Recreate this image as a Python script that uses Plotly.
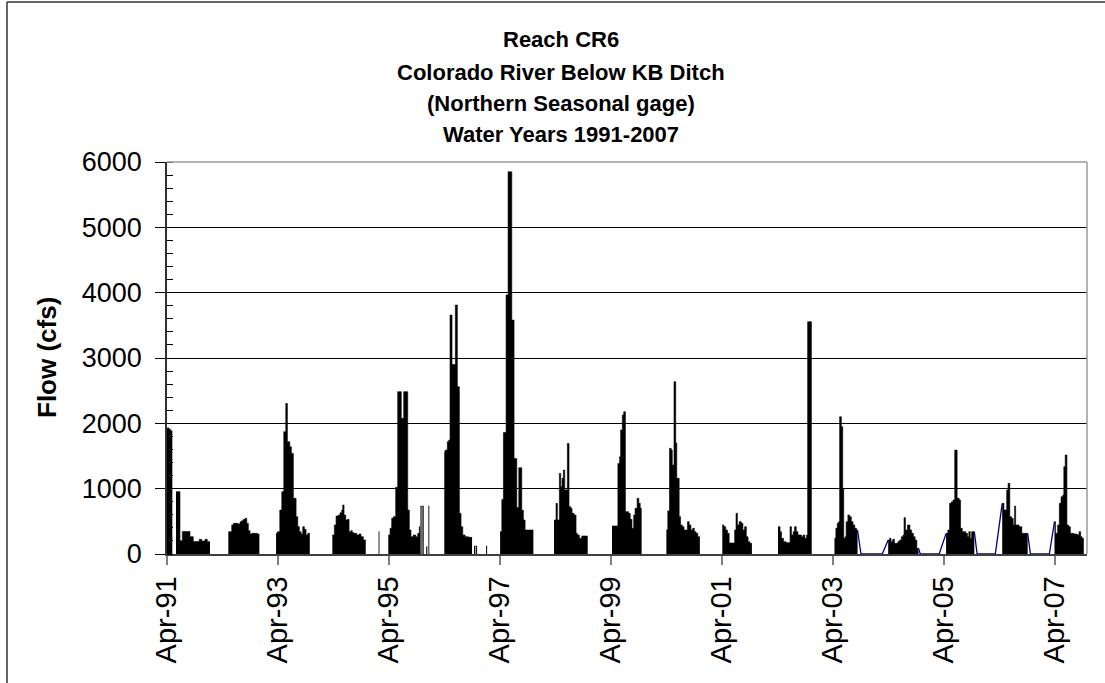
import pandas as pd
import plotly.graph_objects as go

# ---------------- data (decimal years, flow in cfs) ----------------
# Each season: times where the daily flow steps to a new level, and that level.
WY1991A_T = [1991.247, 1991.283, 1991.310, 1991.343]
WY1991A_Q = [1930, 1910, 1885, 1885]

WY1991B_T = [1991.409, 1991.481, 1991.523, 1991.662, 1991.721, 1991.829, 1991.872, 1991.932, 1991.973, 1992.022]
WY1991B_Q = [954, 204, 345, 265, 190, 224, 199, 224, 189, 189]

WY1992_T = [1992.352, 1992.413, 1992.442, 1992.527, 1992.563, 1992.593, 1992.622, 1992.653, 1992.683, 1992.712,
            1992.743, 1992.773, 1992.869, 1992.910]
WY1992_Q = [342, 444, 469, 459, 495, 510, 530, 546, 469, 357, 306, 316, 306, 306]

WY1993_T = [1993.211, 1993.235, 1993.278, 1993.314, 1993.350, 1993.386, 1993.415, 1993.458, 1993.487, 1993.523,
            1993.572, 1993.602, 1993.631, 1993.662, 1993.692, 1993.721, 1993.752, 1993.783, 1993.819]
WY1993_Q = [316, 342, 673, 954, 1872, 2305, 1719, 1642, 1540, 852, 571, 418, 342, 306, 418, 377, 291, 316, 316]

WY1994_T = [1994.226, 1994.262, 1994.293, 1994.334, 1994.365, 1994.395, 1994.413, 1994.437, 1994.467, 1994.496,
            1994.527, 1994.558, 1994.586, 1994.617, 1994.666, 1994.707, 1994.743, 1994.785, 1994.828]
WY1994_Q = [291, 444, 581, 597, 632, 673, 750, 597, 520, 530, 342, 357, 326, 316, 291, 306, 265, 214, 214]

WY1995_T = [1995.235, 1995.266, 1995.296, 1995.325, 1995.368, 1995.404, 1995.469, 1995.513, 1995.585, 1995.614,
            1995.644, 1995.686, 1995.729, 1995.765, 1995.794, 1995.812]
WY1995_Q = [291, 393, 546, 571, 1020, 2484, 2076, 2484, 673, 367, 265, 291, 265, 316, 418, 418]

WY1996_T = [1996.244, 1996.262, 1996.298, 1996.324, 1996.347, 1996.383, 1996.443, 1996.479, 1996.515, 1996.545,
            1996.576, 1996.617, 1996.677, 1996.743]
WY1996_Q = [1566, 1591, 1719, 1744, 3657, 2900, 3810, 2560, 622, 418, 291, 265, 255, 255]

WY1997_T = [1997.248, 1997.279, 1997.308, 1997.356, 1997.392, 1997.459, 1997.500, 1997.549, 1997.585, 1997.639,
            1997.668, 1997.699, 1997.848]
WY1997_Q = [342, 836, 1860, 3963, 5850, 3580, 1460, 710, 1320, 670, 520, 367, 367]

WY1998_T = [1998.221, 1998.257, 1998.281, 1998.317, 1998.342, 1998.365, 1998.389, 1998.414, 1998.461, 1998.491,
            1998.522, 1998.546, 1998.582, 1998.618, 1998.641, 1998.677, 1998.720, 1998.828]
WY1998_Q = [520, 775, 520, 1234, 1030, 1158, 1285, 979, 1693, 724, 699, 622, 597, 316, 291, 240, 275, 275]

WY1999_T = [1999.266, 1999.372, 1999.403, 1999.421, 1999.452, 1999.477, 1999.508, 1999.564, 1999.595, 1999.626,
            1999.657, 1999.682, 1999.719, 1999.750, 1999.775, 1999.800]
WY1999_Q = [428, 1387, 1489, 1897, 2127, 2178, 648, 622, 530, 393, 597, 699, 852, 775, 699, 699]

WY2000_T = [2000.246, 2000.271, 2000.302, 2000.333, 2000.352, 2000.383, 2000.414, 2000.433, 2000.476, 2000.501,
            2000.532, 2000.563, 2000.625, 2000.656, 2000.687, 2000.718, 2000.749, 2000.780, 2000.811, 2000.848]
WY2000_Q = [367, 660, 1617, 1591, 1362, 2637, 1700, 1158, 571, 444, 418, 367, 495, 444, 367, 393, 342, 316, 265, 265]

WY2001_T = [2001.252, 2001.283, 2001.314, 2001.345, 2001.376, 2001.475, 2001.500, 2001.525, 2001.556, 2001.593,
            2001.624, 2001.655, 2001.686, 2001.717, 2001.748, 2001.786]
WY2001_Q = [444, 418, 367, 316, 168, 367, 622, 444, 495, 469, 367, 418, 265, 189, 163, 163]

WY2002_T = [2002.257, 2002.294, 2002.319, 2002.356, 2002.400, 2002.474, 2002.499, 2002.530, 2002.555, 2002.586,
            2002.617, 2002.679, 2002.710, 2002.741, 2002.772, 2002.791, 2002.865]
WY2002_Q = [418, 342, 240, 189, 173, 418, 291, 342, 418, 342, 291, 265, 291, 240, 291, 3555, 3555]

WY2003_T = [2003.275, 2003.300, 2003.325, 2003.349, 2003.368, 2003.399, 2003.424, 2003.442, 2003.467, 2003.486,
            2003.517, 2003.548, 2003.579, 2003.610, 2003.641, 2003.672, 2003.691]
WY2003_Q = [240, 393, 469, 495, 2101, 1948, 1000, 240, 265, 495, 597, 571, 495, 444, 393, 367, 367]

WY2004_T = [2004.243, 2004.268, 2004.293, 2004.324, 2004.355, 2004.417, 2004.448, 2004.479, 2004.510, 2004.528,
            2004.553, 2004.590, 2004.634, 2004.665, 2004.696, 2004.727, 2004.758, 2004.789]
WY2004_Q = [214, 240, 189, 224, 163, 189, 214, 265, 291, 556, 367, 444, 367, 316, 265, 214, 87, 87]

WY2005_T = [2005.285, 2005.316, 2005.348, 2005.379, 2005.410, 2005.441, 2005.484, 2005.521, 2005.546, 2005.577,
            2005.639, 2005.670, 2005.695, 2005.720, 2005.745, 2005.794]
WY2005_Q = [316, 367, 775, 800, 826, 1591, 852, 826, 393, 342, 316, 265, 342, 240, 342, 342]

WY2006_T = [2006.297, 2006.328, 2006.378, 2006.403, 2006.434, 2006.465, 2006.496, 2006.520, 2006.539, 2006.601,
            2006.651, 2006.756]
WY2006_Q = [775, 673, 979, 1081, 571, 546, 444, 734, 444, 418, 316, 316]

WY2007_T = [2007.240, 2007.259, 2007.296, 2007.327, 2007.358, 2007.389, 2007.408, 2007.433, 2007.464, 2007.495,
            2007.526, 2007.588, 2007.650, 2007.681, 2007.712, 2007.737, 2007.768]
WY2007_Q = [495, 316, 444, 775, 877, 903, 1336, 1515, 444, 418, 316, 306, 291, 342, 265, 240, 240]

# isolated single readings (start, end, flow)
SPIKE_START = [1995.060, 1995.815, 1995.850, 1995.918, 1995.958, 1996.779, 1996.816, 1996.996]
SPIKE_END = [1995.075, 1995.835, 1995.873, 1995.938, 1995.974, 1996.803, 1996.834, 1997.014]
SPIKE_Q = [342, 734, 734, 112, 734, 122, 122, 122]

# zero-flow periods between seasons (2003-2007), drawn by the line series
CONN_0304_T = [2003.691, 2003.753, 2004.137, 2004.243]
CONN_0304_Q = [367, 0, 0, 214]
CONN_0405_T = [2004.789, 2004.820, 2005.161, 2005.285]
CONN_0405_Q = [87, 0, 0, 316]
CONN_0506_T = [2005.794, 2005.844, 2006.173, 2006.297]
CONN_0506_Q = [342, 0, 0, 775]
CONN_0607_T = [2006.756, 2006.806, 2007.147, 2007.240]
CONN_0607_Q = [316, 0, 0, 495]

X_RANGE = [1991.247, 2007.826]
Y_RANGE = [0, 6000]
TITLE_LINES = ["Reach CR6", "Colorado River Below KB Ditch", "(Northern Seasonal gage)", "Water Years 1991-2007"]
Y_TITLE = "Flow (cfs)"

FONT = "Liberation Sans, Arial, Helvetica, sans-serif"


def to_dt(y):
    yi = int(y)
    a = pd.Timestamp(year=yi, month=1, day=1)
    b = pd.Timestamp(year=yi + 1, month=1, day=1)
    return a + (b - a) * (y - yi)


def to_dts(lst):
    return [to_dt(v) for v in lst]


seasons = [
    (WY1991A_T, WY1991A_Q), (WY1991B_T, WY1991B_Q), (WY1992_T, WY1992_Q), (WY1993_T, WY1993_Q),
    (WY1994_T, WY1994_Q), (WY1995_T, WY1995_Q), (WY1996_T, WY1996_Q), (WY1997_T, WY1997_Q),
    (WY1998_T, WY1998_Q), (WY1999_T, WY1999_Q), (WY2000_T, WY2000_Q), (WY2001_T, WY2001_Q),
    (WY2002_T, WY2002_Q), (WY2003_T, WY2003_Q), (WY2004_T, WY2004_Q), (WY2005_T, WY2005_Q),
    (WY2006_T, WY2006_Q), (WY2007_T, WY2007_Q),
]
for s, e, q in zip(SPIKE_START, SPIKE_END, SPIKE_Q):
    seasons.append(([s, e], [q, q]))

fig = go.Figure()
for t, q in seasons:
    fig.add_trace(go.Scatter(
        x=to_dts(t), y=q, mode="lines", line=dict(shape="hv", color="black", width=0.6),
        fill="tozeroy", fillcolor="black", hoverinfo="skip", showlegend=False))

for t, q in [(CONN_0304_T, CONN_0304_Q), (CONN_0405_T, CONN_0405_Q),
             (CONN_0506_T, CONN_0506_Q), (CONN_0607_T, CONN_0607_Q)]:
    fig.add_trace(go.Scatter(
        x=to_dts(t), y=q, mode="lines", line=dict(color="#000080", width=1.3),
        cliponaxis=False, hoverinfo="skip", showlegend=False))

L, R, T, B = 167, 18, 162, 129
W, H = 1105, 683
pw, ph = W - L - R, H - T - B


def px_x(p):
    return (p - L) / pw


def px_y(p):
    return (H - B - p) / ph


fig.update_layout(
    width=W, height=H,
    margin=dict(l=L, r=R, t=T, b=B, pad=0),
    paper_bgcolor="white", plot_bgcolor="white",
    font=dict(family=FONT, color="black"),
    showlegend=False,
    xaxis=dict(
        type="date", range=[to_dt(X_RANGE[0]), to_dt(X_RANGE[1])],
        tick0="1991-04-01", dtick="M24", tickformat="%b-%y", tickangle=-90,
        ticks="outside", ticklen=9, tickwidth=1.5, tickcolor="#808080",
        tickfont=dict(size=29, family=FONT, color="black"),
        showgrid=False, showline=True, linecolor="#404040", linewidth=1.5,
        zeroline=False, fixedrange=True),
    yaxis=dict(
        range=Y_RANGE, dtick=1000, tick0=0,
        ticks="outside", ticklen=10, tickwidth=1, tickcolor="black",
        ticklabelstandoff=8,
        tickfont=dict(size=27, family=FONT, color="black"),
        showgrid=True, gridcolor="black", gridwidth=1,
        showline=True, linecolor="#303030", linewidth=1.5,
        zeroline=False, fixedrange=True,
        minor=dict(dtick=200, ticks="inside", ticklen=6, tickcolor="black", tickwidth=1, showgrid=False)),
)

shapes = [
    dict(type="line", xref="paper", yref="paper", x0=0, x1=1, y0=1, y1=1, line=dict(color="#9a9a9a", width=1.5)),
    dict(type="line", xref="paper", yref="paper", x0=1, x1=1, y0=0, y1=1, line=dict(color="#9a9a9a", width=1.5)),
    dict(type="line", xref="paper", yref="paper", x0=px_x(7), x1=px_x(7), y0=px_y(683), y1=px_y(2),
         line=dict(color="#303030", width=1.5)),
    dict(type="line", xref="paper", yref="paper", x0=px_x(7), x1=px_x(1105), y0=px_y(2), y1=px_y(2),
         line=dict(color="#303030", width=1.5)),
]
fig.update_layout(shapes=shapes)

title_y = [40, 72, 103.5, 135]
for line, yy in zip(TITLE_LINES, title_y):
    fig.add_annotation(text="<b>%s</b>" % line, xref="paper", yref="paper", x=px_x(561), y=px_y(yy),
                       xanchor="center", yanchor="middle", showarrow=False,
                       font=dict(size=22, family=FONT, color="black"))

fig.add_annotation(text="<b>%s</b>" % Y_TITLE, xref="paper", yref="paper", x=px_x(47), y=0.5,
                   xanchor="center", yanchor="middle", textangle=-90, showarrow=False,
                   font=dict(size=26, family=FONT, color="black"))

fig.write_html("out.html")
